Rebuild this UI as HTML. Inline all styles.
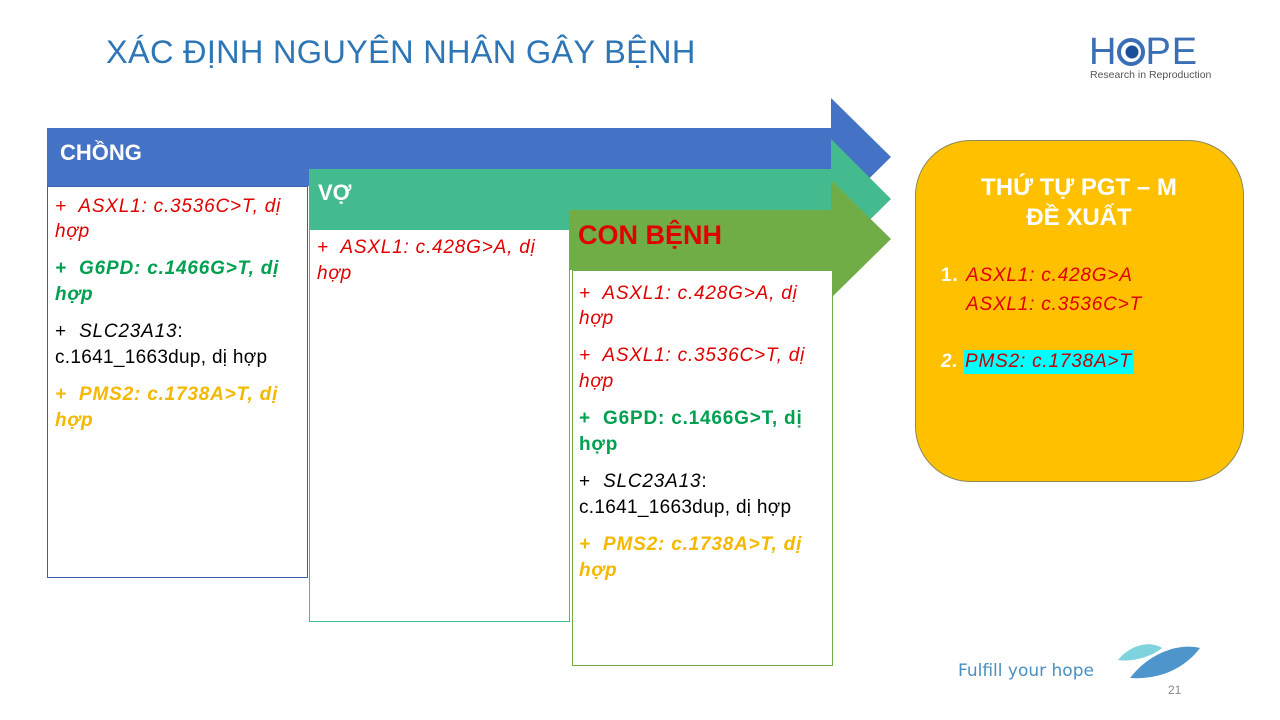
<!DOCTYPE html>
<html><head><meta charset="utf-8"><style>
body{margin:0;width:1280px;height:720px;position:relative;background:#fff;overflow:hidden;font-family:"Liberation Sans",sans-serif}
.l{position:absolute;white-space:nowrap;font-size:19px;line-height:20px;letter-spacing:0.8px}
.r{color:#e00000;font-style:italic}
.g{color:#00a050;font-weight:bold;font-style:italic}
.y{color:#f5b800;font-weight:bold;font-style:italic}
.k{color:#000}
.box{position:absolute;background:#fff}
</style></head><body>
<div class="l" style="left:106px;top:32px;font-size:32.5px;line-height:40px;color:#2e75b6;letter-spacing:0.3px">XÁC ĐỊNH NGUYÊN NHÂN GÂY BỆNH</div>
<div class="l" style="left:1089px;top:32px;font-size:38px;line-height:40px;color:#3a6fb5;letter-spacing:1px">H<span style="display:inline-block;width:28px;height:28px;border-radius:50%;border:4px solid #3a6fb5;box-sizing:border-box;background:radial-gradient(circle at 55% 50%,#1b4f9a 6px,#fff 7px);vertical-align:-2px"></span>PE</div>
<div class="l" style="left:1090px;top:69px;font-size:10.5px;line-height:12px;color:#555;letter-spacing:0">Research in Reproduction</div>
<svg style="position:absolute;left:0;top:0" width="1280" height="720">
<polygon points="47,128 831,128 831,98 891,157 831,216 831,186 47,186" fill="#4472c4"/>
<polygon points="309,169 831,169 831,139 891,199 831,258 831,229 309,229" fill="#44bb8e"/>
<polygon points="569,210 831,210 831,180 891,239 831,298 831,270 569,270" fill="#70ad47"/>
<rect x="915.5" y="140.5" width="328" height="341" rx="55" fill="#ffc000" stroke="#8c8a5a"/>
<path d="M1118,660 C1130,645 1150,640 1162,648 C1150,658 1130,662 1118,660Z" fill="#7fd3df"/>
<path d="M1130,678 C1150,652 1180,643 1200,648 C1185,668 1160,680 1130,678Z" fill="#4e95cc"/>
</svg>
<div class="l" style="left:60px;top:140px;font-size:22px;line-height:26px;color:#fff;font-weight:bold;letter-spacing:0">CHỒNG</div>
<div class="l" style="left:318px;top:180px;font-size:22px;line-height:26px;color:#fff;font-weight:bold;letter-spacing:0">VỢ</div>
<div class="l" style="left:578px;top:220px;font-size:27px;line-height:30px;color:#e00000;font-weight:bold;letter-spacing:0">CON BỆNH</div>
<div class="box" style="left:47px;top:186px;width:261px;height:392px;border:1px solid #3a5fb0;box-sizing:border-box"></div>
<div class="box" style="left:309px;top:229px;width:261px;height:393px;border:1px solid #44bb8e;box-sizing:border-box"></div>
<div class="box" style="left:572px;top:270px;width:261px;height:396px;border:1px solid #70ad47;box-sizing:border-box"></div>
<div class="l r" style="left:55px;top:197px">+&nbsp; ASXL1: c.3536C&gt;T, dị</div>
<div class="l r" style="left:55px;top:222px">hợp</div>
<div class="l g" style="left:55px;top:259px">+&nbsp; G6PD: c.1466G&gt;T, dị</div>
<div class="l g" style="left:55px;top:285px">hợp</div>
<div class="l k" style="left:55px;top:322px">+&nbsp; <i>SLC23A13</i>:</div>
<div class="l k" style="left:55px;top:348px;letter-spacing:0.3px">c.1641_1663dup, dị hợp</div>
<div class="l y" style="left:55px;top:385px">+&nbsp; PMS2: c.1738A&gt;T, dị</div>
<div class="l y" style="left:55px;top:411px">hợp</div>
<div class="l r" style="left:317px;top:238px">+&nbsp; ASXL1: c.428G&gt;A, dị</div>
<div class="l r" style="left:317px;top:264px">hợp</div>
<div class="l r" style="left:579px;top:284px">+&nbsp; ASXL1: c.428G&gt;A, dị</div>
<div class="l r" style="left:579px;top:309px">hợp</div>
<div class="l r" style="left:579px;top:346px">+&nbsp; ASXL1: c.3536C&gt;T, dị</div>
<div class="l r" style="left:579px;top:372px">hợp</div>
<div class="l g" style="left:579px;top:409px;font-style:normal">+&nbsp; G6PD: c.1466G&gt;T, dị</div>
<div class="l g" style="left:579px;top:435px;font-style:normal">hợp</div>
<div class="l k" style="left:579px;top:472px">+&nbsp; <i>SLC23A13</i>:</div>
<div class="l k" style="left:579px;top:498px;letter-spacing:0.3px">c.1641_1663dup, dị hợp</div>
<div class="l y" style="left:579px;top:535px">+&nbsp; PMS2: c.1738A&gt;T, dị</div>
<div class="l y" style="left:579px;top:561px">hợp</div>
<div class="l" style="left:915px;width:328px;text-align:center;top:173px;font-size:24px;line-height:30px;color:#fff;font-weight:bold;letter-spacing:0">THỨ TỰ PGT – M<br>ĐỀ XUẤT</div>
<div class="l" style="left:941px;top:266px;color:#fff;font-weight:bold;font-size:19px">1.</div>
<div class="l r" style="left:966px;top:266px;font-size:19px">ASXL1: c.428G&gt;A</div>
<div class="l r" style="left:966px;top:295px;font-size:19px">ASXL1: c.3536C&gt;T</div>
<div class="l" style="left:941px;top:352px;color:#fff;font-weight:bold;font-style:italic;font-size:19px">2.</div>
<div class="l r" style="left:964px;top:350px;font-size:19px;background:#00ffff;padding:2px 2px 2px 1px;color:#c00000">PMS2: c.1738A&gt;T</div>
<div class="l" style="left:958px;top:660px;line-height:22px;color:#4a8fc0;font-family:'DejaVu Sans',sans-serif;font-size:17px;letter-spacing:0">Fulfill your hope</div>
<div class="l" style="left:1168px;top:680px;font-size:12px;color:#888;letter-spacing:0">21</div>
</body></html>
